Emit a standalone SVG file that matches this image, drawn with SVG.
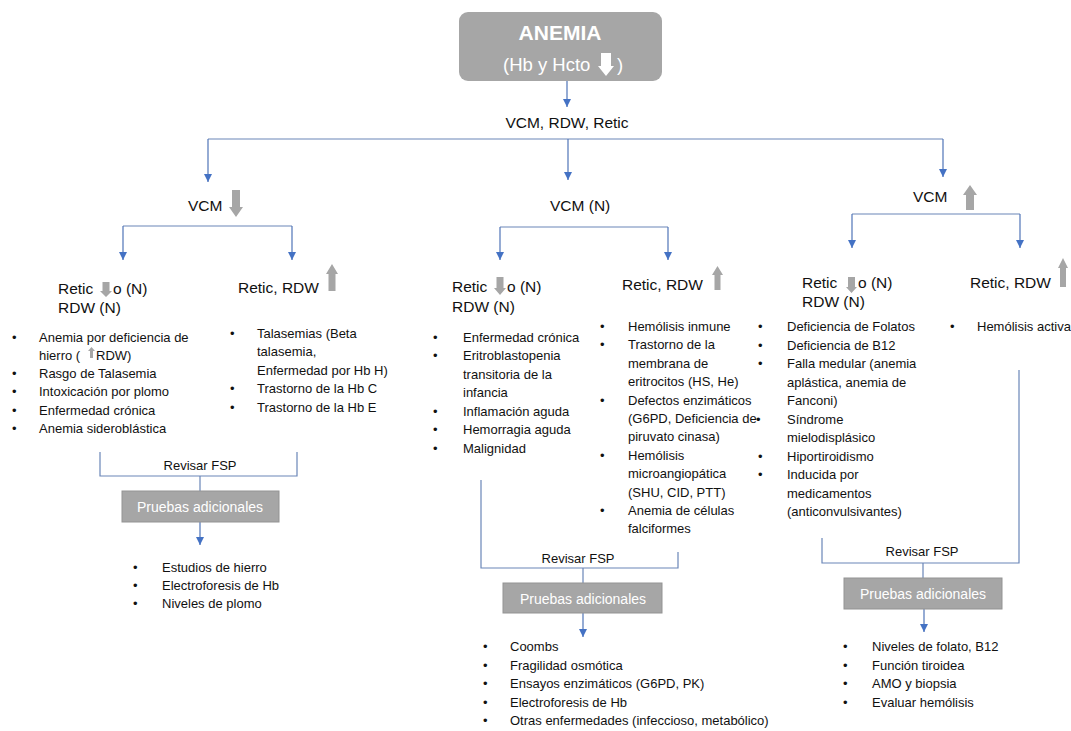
<svg xmlns="http://www.w3.org/2000/svg" width="1071" height="731" viewBox="0 0 1071 731">
<style>
text{font-family:"Liberation Sans",Arial,sans-serif;fill:#111}
.h{font-size:15.5px}
.b{font-size:13px}
.c{text-anchor:middle}
.w{fill:#fff}
.g{fill:#a6a6a6}
.box{fill:#a6a6a6;stroke:#939393;stroke-width:1}
.ln{fill:none;stroke:#6a86b8;stroke-width:1.2}
.ar{fill:none;stroke:#4f74b8;stroke-width:1.2;marker-end:url(#ah)}
</style>
<defs>
<marker id="ah" markerUnits="userSpaceOnUse" markerWidth="8" markerHeight="8" refX="8" refY="4" orient="auto">
<path d="M0,0 L8,4 L0,8 Z" fill="#4472c4"/>
</marker>
</defs>
<rect width="1071" height="731" fill="#fff"/>

<g id="connectors">
<path class="ar" d="M567,81 V107"/>
<path class="ln" d="M208,139 H943"/>
<path class="ar" d="M208,139 V182"/>
<path class="ar" d="M568,139 V180"/>
<path class="ar" d="M943,139 V177"/>
<path class="ln" d="M123,226 H292"/>
<path class="ar" d="M123,226 V260"/>
<path class="ar" d="M292,226 V260"/>
<path class="ln" d="M500,227 H668"/>
<path class="ar" d="M500,227 V260"/>
<path class="ar" d="M668,227 V260"/>
<path class="ln" d="M852,214 H1020"/>
<path class="ar" d="M852,214 V248"/>
<path class="ar" d="M1020,214 V248"/>
<path class="ln" d="M100,452 V476 H297 V452 M200,476 V491"/>
<path class="ar" d="M200,522 V545"/>
<path class="ln" d="M481,480 V568 H678 V552 M583,568 V583"/>
<path class="ar" d="M583,613 V637"/>
<path class="ln" d="M822,538 V563 H1019 V370 M923,563 V578"/>
<path class="ar" d="M924,609 V632"/>
</g>

<g id="anemia">
<rect x="459" y="12" width="203" height="69" rx="9" fill="#a6a6a6"/>
<text class="w c" x="560" y="40" style="font-size:21px;font-weight:bold">ANEMIA</text>
<text class="w" x="503" y="71" style="font-size:18.5px">(Hb y Hcto</text>
<path class="w" d="M601,53 H611 V66 H614 L606,76 L598,66 H601 Z"/>
<text class="w" x="617" y="71" style="font-size:18.5px">)</text>
</g>

<g id="params">
<text class="h c" x="567" y="128">VCM, RDW, Retic</text>
</g>

<g id="vcm-low">
<text class="h" x="188" y="211">VCM</text>
<path class="g" d="M232,190 H240 V207 H243 L236,217 L229,207 H232 Z"/>
</g>
<g id="vcm-normal">
<text class="h" x="550" y="211">VCM (N)</text>
</g>
<g id="vcm-high">
<text class="h" x="913" y="202">VCM</text>
<path class="g" d="M970,185 L977,195 H974 V210 H966 V195 H963 Z"/>
</g>

<g id="low-retic-normal">
<text class="h" x="58" y="294">Retic</text>
<path class="g" d="M102.5,282 H109.5 V291 H112 L106,297 L100,291 H102.5 Z"/>
<text class="h" x="113" y="294">o (N)</text>
<text class="h" x="58" y="313">RDW (N)</text>
<text class="b" x="12" y="342">•</text>
<text class="b" x="39" y="342">Anemia por deficiencia de</text>
<text class="b" x="39" y="360">hierro (</text>
<path class="g" d="M91.5,347 L95,351 H93 V358 H90 V351 H88 Z"/>
<text class="b" x="96" y="360">RDW)</text>
<text class="b" x="12" y="378">•</text>
<text class="b" x="39" y="378">Rasgo de Talasemia</text>
<text class="b" x="12" y="396">•</text>
<text class="b" x="39" y="396">Intoxicación por plomo</text>
<text class="b" x="12" y="415">•</text>
<text class="b" x="39" y="415">Enfermedad crónica</text>
<text class="b" x="12" y="433">•</text>
<text class="b" x="39" y="433">Anemia sideroblástica</text>
</g>

<g id="low-retic-high">
<text class="h" x="238" y="293">Retic, RDW</text>
<path class="g" d="M332,264 L338,274 H335.5 V291 H328.5 V274 H326 Z"/>
<text class="b" x="230" y="338">•</text>
<text class="b" x="257" y="338">Talasemias (Beta</text>
<text class="b" x="257" y="356">talasemia,</text>
<text class="b" x="257" y="375">Enfermedad por Hb H)</text>
<text class="b" x="230" y="393">•</text>
<text class="b" x="257" y="393">Trastorno de la Hb C</text>
<text class="b" x="230" y="412">•</text>
<text class="b" x="257" y="412">Trastorno de la Hb E</text>
</g>

<g id="low-tests">
<text class="b c" x="200" y="470">Revisar FSP</text>
<rect class="box" x="122" y="491" width="157" height="31"/>
<text class="w c" x="200" y="512" style="font-size:14px">Pruebas adicionales</text>
<text class="b" x="133" y="572">•</text>
<text class="b" x="162" y="572">Estudios de hierro</text>
<text class="b" x="133" y="590">•</text>
<text class="b" x="162" y="590">Electroforesis de Hb</text>
<text class="b" x="133" y="608">•</text>
<text class="b" x="162" y="608">Niveles de plomo</text>
</g>

<g id="normal-retic-normal">
<text class="h" x="452" y="292">Retic</text>
<path class="g" d="M496.5,277 H503.5 V288 H506 L500,295 L494,288 H496.5 Z"/>
<text class="h" x="507" y="292">o (N)</text>
<text class="h" x="452" y="312">RDW (N)</text>
<text class="b" x="433" y="342">•</text>
<text class="b" x="463" y="342">Enfermedad crónica</text>
<text class="b" x="433" y="360">•</text>
<text class="b" x="463" y="360">Eritroblastopenia</text>
<text class="b" x="463" y="379">transitoria de la</text>
<text class="b" x="463" y="397">infancia</text>
<text class="b" x="433" y="416">•</text>
<text class="b" x="463" y="416">Inflamación aguda</text>
<text class="b" x="433" y="434">•</text>
<text class="b" x="463" y="434">Hemorragia aguda</text>
<text class="b" x="433" y="453">•</text>
<text class="b" x="463" y="453">Malignidad</text>
</g>

<g id="normal-retic-high">
<text class="h" x="622" y="290">Retic, RDW</text>
<path class="g" d="M717.5,266 L723,275 H720.5 V290 H714.5 V275 H712 Z"/>
<text class="b" x="600" y="331">•</text>
<text class="b" x="628" y="331">Hemólisis inmune</text>
<text class="b" x="600" y="349.4">•</text>
<text class="b" x="628" y="349.4">Trastorno de la</text>
<text class="b" x="628" y="367.8">membrana de</text>
<text class="b" x="628" y="386.2">eritrocitos (HS, He)</text>
<text class="b" x="600" y="404.6">•</text>
<text class="b" x="628" y="404.6">Defectos enzimáticos</text>
<text class="b" x="628" y="423">(G6PD, Deficiencia de</text>
<text class="b" x="628" y="441.4">piruvato cinasa)</text>
<text class="b" x="600" y="459.8">•</text>
<text class="b" x="628" y="459.8">Hemólisis</text>
<text class="b" x="628" y="478.2">microangiopática</text>
<text class="b" x="628" y="496.6">(SHU, CID, PTT)</text>
<text class="b" x="600" y="515">•</text>
<text class="b" x="628" y="515">Anemia de células</text>
<text class="b" x="628" y="533.4">falciformes</text>
</g>

<g id="normal-tests">
<text class="b c" x="578" y="563">Revisar FSP</text>
<rect class="box" x="503" y="583" width="159" height="30"/>
<text class="w c" x="583" y="604" style="font-size:14px">Pruebas adicionales</text>
<text class="b" x="483" y="651">•</text>
<text class="b" x="510" y="651">Coombs</text>
<text class="b" x="483" y="670">•</text>
<text class="b" x="510" y="670">Fragilidad osmótica</text>
<text class="b" x="483" y="688">•</text>
<text class="b" x="510" y="688">Ensayos enzimáticos (G6PD, PK)</text>
<text class="b" x="483" y="707">•</text>
<text class="b" x="510" y="707">Electroforesis de Hb</text>
<text class="b" x="483" y="725">•</text>
<text class="b" x="510" y="725">Otras enfermedades (infeccioso, metabólico)</text>
</g>

<g id="high-retic-normal">
<text class="h" x="802" y="288">Retic</text>
<path class="g" d="M848,277 H855 V287 H857 L851.5,293 L846,287 H848 Z"/>
<text class="h" x="858" y="288">o (N)</text>
<text class="h" x="802" y="307">RDW (N)</text>
<text class="b" x="758" y="331">•</text>
<text class="b" x="787" y="331">Deficiencia de Folatos</text>
<text class="b" x="758" y="349.5">•</text>
<text class="b" x="787" y="349.5">Deficiencia de B12</text>
<text class="b" x="758" y="368">•</text>
<text class="b" x="787" y="368">Falla medular (anemia</text>
<text class="b" x="787" y="386.5">aplástica, anemia de</text>
<text class="b" x="787" y="405">Fanconi)</text>
<text class="b" x="756" y="423.5">•</text>
<text class="b" x="787" y="423.5">Síndrome</text>
<text class="b" x="787" y="442">mielodisplásico</text>
<text class="b" x="758" y="460.5">•</text>
<text class="b" x="787" y="460.5">Hiportiroidismo</text>
<text class="b" x="758" y="479">•</text>
<text class="b" x="787" y="479">Inducida por</text>
<text class="b" x="787" y="497.5">medicamentos</text>
<text class="b" x="787" y="516">(anticonvulsivantes)</text>
</g>

<g id="high-retic-high">
<text class="h" x="970" y="288">Retic, RDW</text>
<path class="g" d="M1063,258 L1068,268 H1066 V287 H1060 V268 H1058 Z"/>
<text class="b" x="950" y="331">•</text>
<text class="b" x="977" y="331">Hemólisis activa</text>
</g>

<g id="high-tests">
<text class="b c" x="922" y="556">Revisar FSP</text>
<rect class="box" x="844" y="578" width="158" height="31"/>
<text class="w c" x="923" y="599" style="font-size:14px">Pruebas adicionales</text>
<text class="b" x="843" y="651">•</text>
<text class="b" x="872" y="651">Niveles de folato, B12</text>
<text class="b" x="843" y="670">•</text>
<text class="b" x="872" y="670">Función tiroidea</text>
<text class="b" x="843" y="688">•</text>
<text class="b" x="872" y="688">AMO y biopsia</text>
<text class="b" x="843" y="707">•</text>
<text class="b" x="872" y="707">Evaluar hemólisis</text>
</g>
</svg>
